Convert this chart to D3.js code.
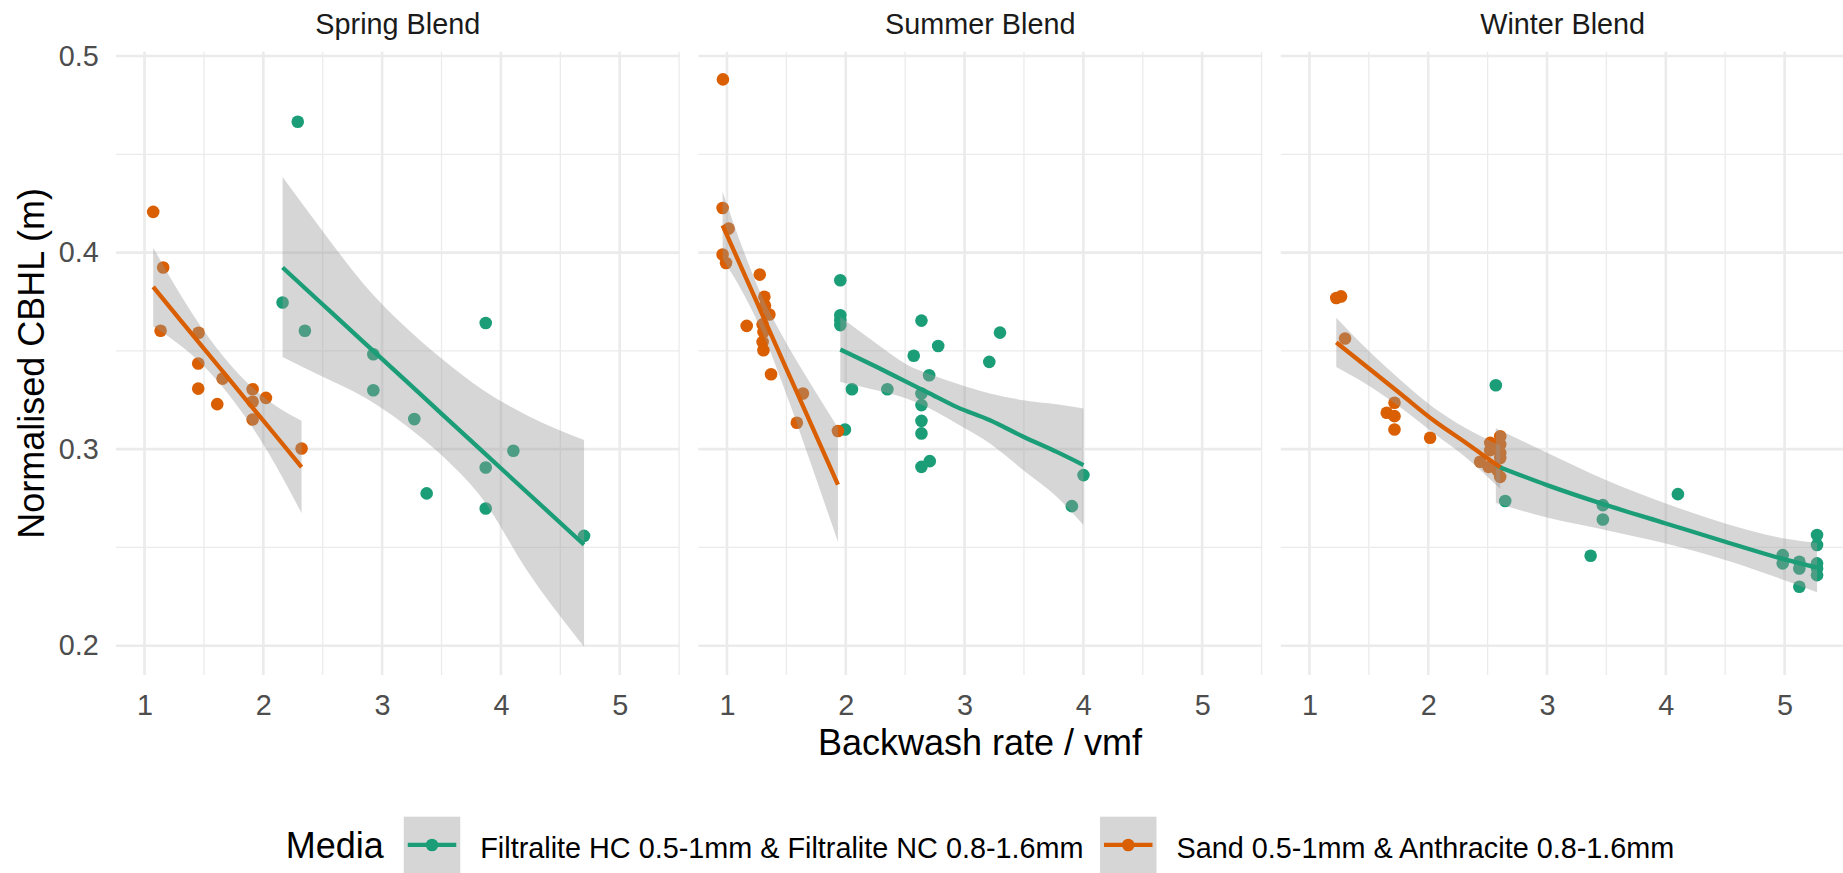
<!DOCTYPE html>
<html><head><meta charset="utf-8">
<script src="https://cdn.jsdelivr.net/npm/d3@7"></script>
<style>body{margin:0;background:#fff} text{font-family:"Liberation Sans",Arial,sans-serif}</style>
</head><body><svg id="c" width="1843" height="873"></svg>
<script>
// ---------- data ----------
const panels = ["Spring Blend", "Summer Blend", "Winter Blend"];
const mediaNames = ["Filtralite HC 0.5-1mm & Filtralite NC 0.8-1.6mm", "Sand 0.5-1mm & Anthracite 0.8-1.6mm"];
const mediaColors = ["#1B9E77", "#D95F02"];
const xTicks = [1, 2, 3, 4, 5];
const xMinor = [1.5, 2.5, 3.5, 4.5, 5.5];
const yTicks = [0.2, 0.3, 0.4, 0.5];
const yMinor = [0.25, 0.35, 0.45];

// points
const springFiltX = [2.162, 2.290, 2.350, 2.926, 2.926, 3.271, 3.375, 3.872, 3.872, 3.872, 4.105, 4.700];
const springFiltY = [0.3746, 0.4666, 0.3602, 0.3483, 0.3300, 0.3153, 0.2775, 0.3642, 0.2907, 0.2698, 0.2992, 0.2559];
const springSandX = [1.073, 1.157, 1.135, 1.455, 1.452, 1.452, 1.657, 1.612, 1.910, 1.910, 1.910, 2.022, 2.322];
const springSandY = [0.4207, 0.3924, 0.3602, 0.3592, 0.3436, 0.3308, 0.3359, 0.3229, 0.3305, 0.3241, 0.3151, 0.3261, 0.3003];
const summerFiltX = [1.954, 1.954, 1.954, 1.954, 1.993, 2.052, 2.350, 2.572, 2.637, 2.637, 2.637, 2.637, 2.637, 2.637, 2.702, 2.707, 2.778, 3.208, 3.298, 3.903, 4.001];
const summerFiltY = [0.3859, 0.3681, 0.3656, 0.3631, 0.3100, 0.3305, 0.3305, 0.3475, 0.3654, 0.3283, 0.3224, 0.3144, 0.3080, 0.2910, 0.3376, 0.2939, 0.3525, 0.3444, 0.3593, 0.2710, 0.2868];
const summerSandX = [0.966, 0.963, 1.014, 0.963, 0.992, 1.276, 1.315, 1.320, 1.357, 1.166, 1.300, 1.307, 1.300, 1.307, 1.371, 1.639, 1.588, 1.934];
const summerSandY = [0.4881, 0.4227, 0.4122, 0.3990, 0.3947, 0.3888, 0.3775, 0.3730, 0.3685, 0.3627, 0.3635, 0.3597, 0.3545, 0.3503, 0.3381, 0.3283, 0.3134, 0.3092];
const winterFiltX = [2.569, 2.648, 3.367, 3.470, 3.470, 4.102, 4.984, 4.984, 5.124, 5.124, 5.124, 5.273, 5.273, 5.273, 5.273, 5.273];
const winterFiltY = [0.3325, 0.2736, 0.2458, 0.2715, 0.2642, 0.2771, 0.2461, 0.2419, 0.2427, 0.2393, 0.2300, 0.2563, 0.2512, 0.2419, 0.2393, 0.2359];
const winterSandX = [1.226, 1.266, 1.300, 1.716, 1.651, 1.716, 1.716, 2.016, 2.606, 2.522, 2.606, 2.522, 2.606, 2.606, 2.437, 2.508, 2.580, 2.606];
const winterSandY = [0.3769, 0.3777, 0.3563, 0.3236, 0.3185, 0.3168, 0.3100, 0.3058, 0.3066, 0.3032, 0.3025, 0.2995, 0.2981, 0.2955, 0.2936, 0.2910, 0.2895, 0.2859];

// smoothers (fit and confidence band)
const springFiltSmX  = [2.162, 2.5, 2.842, 3.178, 3.515, 3.852, 4.217, 4.7];
const springFiltFit  = [0.3924, 0.3736, 0.3546, 0.3360, 0.3172, 0.2985, 0.2782, 0.2514];
const springFiltLo   = [0.3469, 0.3368, 0.3266, 0.3131, 0.2961, 0.2741, 0.2385, 0.1995];
const springFiltHi   = [0.4385, 0.4109, 0.3842, 0.3631, 0.3453, 0.3300, 0.3173, 0.3046];
const springSandSmX  = [1.073, 1.3, 1.5, 1.7, 1.9, 2.1, 2.322];
const springSandFit  = [0.3825, 0.3658, 0.3512, 0.3365, 0.3218, 0.3072, 0.2909];
const springSandLo   = [0.3625, 0.3528, 0.3422, 0.3285, 0.3118, 0.2922, 0.2674];
const springSandHi   = [0.4025, 0.3788, 0.3602, 0.3445, 0.3318, 0.3222, 0.3144];
const summerFiltSmX  = [1.954, 2.257, 2.511, 2.707, 2.932, 3.214, 3.495, 3.776, 4.001];
const summerFiltFit  = [0.3507, 0.3419, 0.3342, 0.3283, 0.3215, 0.3147, 0.3063, 0.2986, 0.2919];
const summerFiltLo   = [0.3342, 0.3300, 0.3258, 0.3207, 0.3131, 0.3029, 0.2893, 0.2758, 0.2614];
const summerFiltHi   = [0.3673, 0.3537, 0.3431, 0.3381, 0.3334, 0.3283, 0.3249, 0.3228, 0.3207];
const summerSandSmX  = [0.963, 1.1, 1.3, 1.5, 1.7, 1.934];
const summerSandFit  = [0.4139, 0.3953, 0.3681, 0.3409, 0.3137, 0.2819];
const summerSandLo   = [0.3967, 0.3833, 0.3591, 0.3279, 0.2937, 0.2529];
const summerSandHi   = [0.4311, 0.4073, 0.3771, 0.3539, 0.3337, 0.3109];
const winterFiltSmX  = [2.569, 3.0, 3.5, 4.0, 4.5, 5.0, 5.273];
const winterFiltFit  = [0.2916, 0.2817, 0.2715, 0.2622, 0.2529, 0.2439, 0.2397];
const winterFiltLo   = [0.2726, 0.2652, 0.2588, 0.2520, 0.2436, 0.2333, 0.2272];
const winterFiltHi   = [0.3106, 0.2982, 0.2842, 0.2724, 0.2622, 0.2545, 0.2522];
const winterSandSmX  = [1.226, 1.483, 1.764, 2.044, 2.325, 2.606];
const winterSandFit  = [0.3543, 0.3419, 0.3283, 0.3147, 0.3029, 0.2908];
const winterSandLo   = [0.3418, 0.3329, 0.3213, 0.3082, 0.2954, 0.2798];
const winterSandHi   = [0.3668, 0.3509, 0.3353, 0.3212, 0.3104, 0.3018];

const pts = [
  [[springFiltX, springFiltY], [springSandX, springSandY]],
  [[summerFiltX, summerFiltY], [summerSandX, summerSandY]],
  [[winterFiltX, winterFiltY], [winterSandX, winterSandY]]
];
const sms = [
  [[springFiltSmX, springFiltFit, springFiltLo, springFiltHi], [springSandSmX, springSandFit, springSandLo, springSandHi]],
  [[summerFiltSmX, summerFiltFit, summerFiltLo, summerFiltHi], [summerSandSmX, summerSandFit, summerSandLo, summerSandHi]],
  [[winterFiltSmX, winterFiltFit, winterFiltLo, winterFiltHi], [winterSandSmX, winterSandFit, winterSandLo, winterSandHi]]
];

// ---------- layout ----------
const svg = d3.select("#c");
const panelLeft = [115.9, 698.35, 1280.8], panelW = 563.8, panelTop = 51.7, panelBottom = 675;
const xDomain = [0.759, 5.505], yDomain = [0.1851, 0.5022];
const y = d3.scaleLinear().domain(yDomain).range([panelBottom, panelTop]);
const grid = "#EBEBEB";
const font = '"Liberation Sans", Arial, sans-serif';

const defs = svg.append("defs");

panels.forEach((name, pi) => {
  const L = panelLeft[pi];
  const x = d3.scaleLinear().domain(xDomain).range([L, L + panelW]);
  const g = svg.append("g");
  defs.append("clipPath").attr("id", "clip" + pi).append("rect")
    .attr("x", L).attr("y", panelTop).attr("width", panelW).attr("height", panelBottom - panelTop);

  // grid
  g.selectAll(".ymin").data(yMinor).join("line")
    .attr("x1", L).attr("x2", L + panelW).attr("y1", d => y(d)).attr("y2", d => y(d))
    .attr("stroke", grid).attr("stroke-width", 1.3);
  g.selectAll(".xmin").data(xMinor).join("line")
    .attr("y1", panelTop).attr("y2", panelBottom).attr("x1", d => x(d)).attr("x2", d => x(d))
    .attr("stroke", grid).attr("stroke-width", 1.3);
  g.selectAll(".ymaj").data(yTicks).join("line")
    .attr("x1", L).attr("x2", L + panelW).attr("y1", d => y(d)).attr("y2", d => y(d))
    .attr("stroke", grid).attr("stroke-width", 2.6);
  g.selectAll(".xmaj").data(xTicks).join("line")
    .attr("y1", panelTop).attr("y2", panelBottom).attr("x1", d => x(d)).attr("x2", d => x(d))
    .attr("stroke", grid).attr("stroke-width", 2.6);

  // x axis labels
  const ax = svg.append("g").attr("transform", `translate(0,${panelBottom})`)
    .call(d3.axisBottom(x).tickValues(xTicks).tickFormat(d3.format("d")).tickSize(0).tickPadding(19.6));
  ax.select(".domain").remove();
  ax.selectAll("text").attr("font-size", 28.8).attr("fill", "#4D4D4D").attr("font-family", font);

  if (pi === 0) {
    const ay = svg.append("g").attr("transform", `translate(${L},0)`)
      .call(d3.axisLeft(y).tickValues(yTicks).tickFormat(d3.format(".1f")).tickSize(0).tickPadding(17));
    ay.select(".domain").remove();
    ay.selectAll("text").attr("font-size", 28.8).attr("fill", "#4D4D4D").attr("font-family", font);
  }

  // strip
  svg.append("text").attr("x", L + panelW / 2).attr("y", 34).attr("text-anchor", "middle")
    .attr("font-size", 28.8).attr("fill", "#1A1A1A").text(name);

  const plot = g.append("g").attr("clip-path", `url(#clip${pi})`);
  // points
  pts[pi].forEach((s, si) => {
    const data = s[0].map((v, i) => [v, s[1][i]]);
    plot.append("g").selectAll("circle").data(data).join("circle")
      .attr("cx", d => x(d[0])).attr("cy", d => y(d[1])).attr("r", 6.3)
      .attr("fill", mediaColors[si]);
  });
  // smooths
  sms[pi].forEach((s, si) => {
    const data = s[0].map((v, i) => ({x: v, f: s[1][i], lo: s[2][i], hi: s[3][i]}));
    plot.append("path").datum(data)
      .attr("d", d3.area().curve(d3.curveMonotoneX).x(d => x(d.x)).y0(d => y(d.lo)).y1(d => y(d.hi)))
      .attr("fill", "#999999").attr("fill-opacity", 0.4);
    plot.append("path").datum(data)
      .attr("d", d3.line().curve(d3.curveMonotoneX).x(d => x(d.x)).y(d => y(d.f)))
      .attr("fill", "none").attr("stroke", mediaColors[si]).attr("stroke-width", 4.3);
  });
});

// axis titles
svg.append("text").attr("x", 980).attr("y", 755).attr("text-anchor", "middle")
  .attr("font-size", 36).attr("fill", "#000").text("Backwash rate / vmf");
svg.append("text").attr("transform", `translate(44,${(panelTop + panelBottom) / 2}) rotate(-90)`)
  .attr("text-anchor", "middle").attr("font-size", 36).attr("fill", "#000").text("Normalised CBHL (m)");

// legend
const leg = svg.append("g");
const keySize = 56.5, keyTop = 816.7, baseY = 858;
const title = leg.append("text").attr("x", 0).attr("y", baseY).attr("font-size", 36).attr("fill", "#000").text("Media");
let cx = title.node().getComputedTextLength() + 20;
mediaNames.forEach((nm, i) => {
  leg.append("rect").attr("x", cx).attr("y", keyTop).attr("width", keySize).attr("height", keySize)
    .attr("fill", "#999999").attr("fill-opacity", 0.4);
  leg.append("line").attr("x1", cx + 4).attr("x2", cx + keySize - 4)
    .attr("y1", keyTop + keySize / 2).attr("y2", keyTop + keySize / 2)
    .attr("stroke", mediaColors[i]).attr("stroke-width", 4.3);
  leg.append("circle").attr("cx", cx + keySize / 2).attr("cy", keyTop + keySize / 2).attr("r", 6.3)
    .attr("fill", mediaColors[i]);
  const t = leg.append("text").attr("x", cx + keySize + 20).attr("y", baseY).attr("font-size", 28.8)
    .attr("fill", "#000").text(nm);
  cx = cx + keySize + 20 + t.node().getComputedTextLength() + 16.5;
});
const totalW = cx - 16.5;
leg.attr("transform", `translate(${980 - totalW / 2},0)`);
</script></body></html>
